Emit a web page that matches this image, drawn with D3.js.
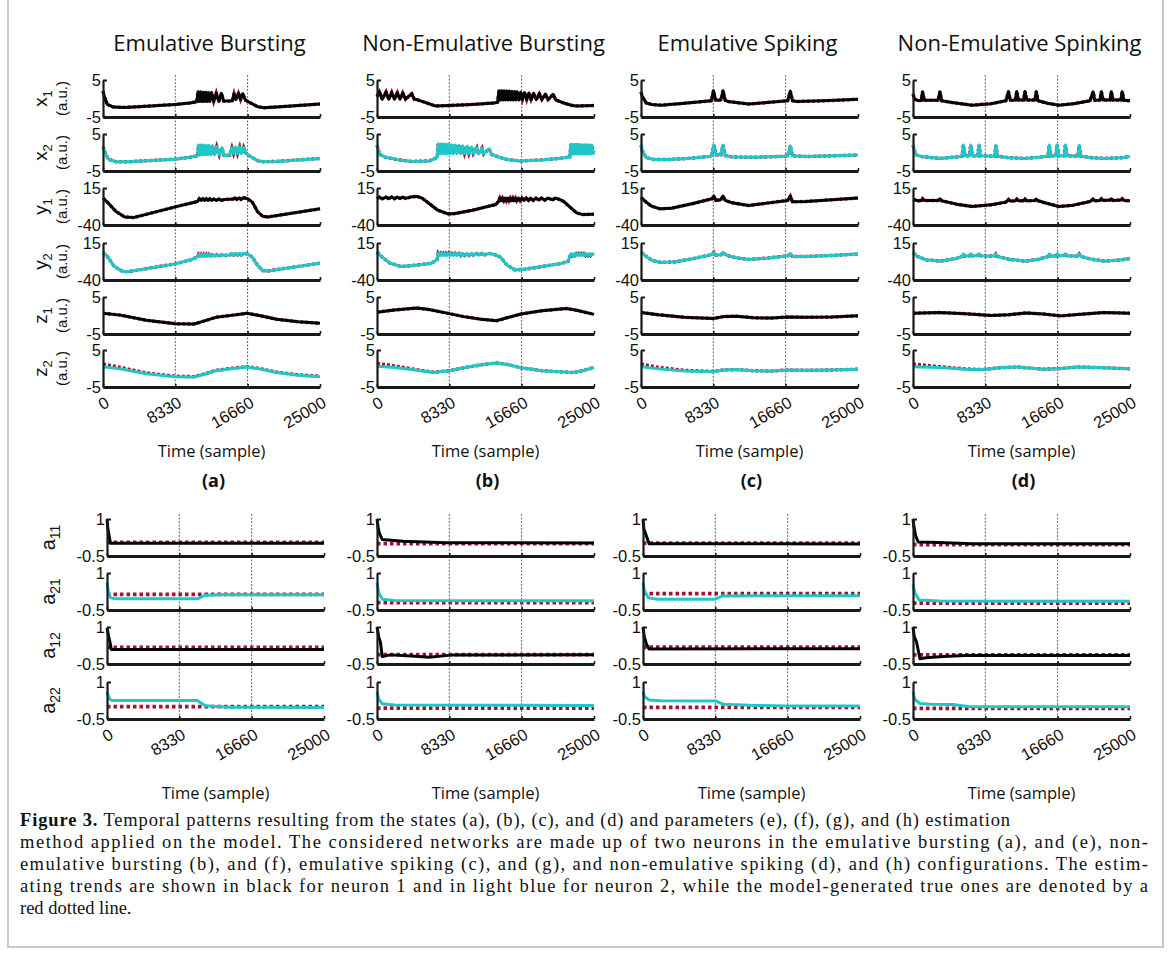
<!DOCTYPE html>
<meta charset="utf-8">
<style>
body { margin: 0; background: #fff; }
</style>
<body>
<script src="https://cdn.jsdelivr.net/npm/d3@7"></script>
<script>

var W = 1170, H = 960;

var titles = ["Emulative Bursting", "Non-Emulative Bursting", "Emulative Spiking", "Non-Emulative Spinking"];
var panelTags = ["(a)", "(b)", "(c)", "(d)"];
var timeTicks = [0, 8.33, 16.66, 25];            // thousands of samples
var timeTickLabels = ["0", "8330", "16660", "25000"];

// ---- states, column (a) emulative bursting ----
var aX1 = [[0,2.0],[0.15,0.5],[0.5,-1.6],[1.2,-2.3],[2.5,-2.4],[5,-2.1],[8.33,-1.6],[10,-1.2],[10.8,-0.9],
  [10.95,1.8],[11.1,-0.8],[11.25,1.8],[11.4,-0.8],[11.55,1.7],[11.7,-0.8],[11.85,1.7],[12.0,-0.8],[12.15,1.6],[12.3,-0.8],
  [12.5,1.6],[12.75,-0.8],[13.05,1.5],[13.35,-0.8],[13.65,1.4],[13.9,-0.7],[14.5,-0.7],[14.9,-0.6],[15.1,1.3],[15.3,-0.3],
  [15.6,1.4],[15.85,-0.3],[16.1,1.3],[16.4,-0.4],[17,-1.2],[17.8,-2.2],[18.5,-2.5],[20,-2.3],[22.5,-1.9],[25,-1.5]];
var aX2 = [[0,1.6],[0.2,0.2],[0.6,-1.8],[1.5,-2.5],[3,-2.5],[6,-2.1],[8.33,-1.8],[10,-1.3],[10.9,-0.9],
  [11.0,2.0],[11.15,-0.6],[11.3,2.0],[11.45,-0.6],[11.6,2.0],[11.75,-0.6],[11.9,1.9],[12.05,-0.6],[12.2,1.9],[12.4,-0.6],
  [12.6,1.8],[12.85,-0.6],[13.1,1.6],[13.4,-0.7],[13.7,1.3],[13.95,-0.8],[14.6,-0.7],[14.85,1.3],[15.05,-0.3],[15.3,1.5],
  [15.5,-0.3],[15.75,1.5],[15.95,-0.3],[16.2,1.4],[16.5,-0.3],[17,-1.1],[17.8,-2.2],[18.5,-2.5],[20,-2.4],[22.5,-2.0],[25,-1.6]];
var aY1 = [[0,0],[0.5,-6],[1.5,-20],[2.5,-28],[3.5,-29],[8.33,-13],[10.9,-5],[11.1,-1],[11.3,-3.5],[11.5,-1],[11.7,-3.5],
  [11.9,-1],[12.1,-3.5],[12.3,-1],[12.5,-3.5],[12.75,-1.5],[13.05,-3.5],[13.35,-1.5],[13.65,-3.5],[14,-2],[15,-1.5],
  [15.2,0.5],[15.4,-2],[15.7,0.5],[15.9,-2],[16.2,0.5],[16.66,-1],[17.2,-6],[17.8,-20],[18.4,-27],[19,-28],[25,-16]];
var aY2 = [[0,1],[0.5,-5],[1.3,-20],[2.3,-27.5],[3,-27.5],[8.33,-16],[10.1,-10],[10.9,-5.5],[11.0,-2],[11.15,-5],[11.3,-2],
  [11.45,-5],[11.6,-2],[11.75,-5],[11.9,-2],[12.05,-5],[12.2,-2],[12.4,-5],[12.6,-2.5],[12.85,-4.5],[13.1,-2.5],[13.4,-4.5],
  [13.7,-2.5],[14,-3.5],[14.6,-3],[14.85,-0.5],[15.05,-3],[15.3,-0.5],[15.5,-3],[15.75,-0.5],[15.95,-3],[16.2,-0.5],
  [16.6,-1],[17.2,-6],[17.8,-18],[18.4,-26],[19,-26.5],[25,-15]];
var aZ1 = [[0,0.6],[2,0.1],[5,-1.3],[8.33,-2.2],[10.5,-2.3],[11.5,-1.6],[13,-0.5],[15,0.1],[16.6,0.6],[18,0],[20,-1],[22.5,-1.7],[25,-2.1]];
var aZ2 = [[0,0.5],[2,-0.1],[5,-1.4],[8.33,-2.2],[10.5,-2.3],[11.5,-1.7],[13,-0.6],[15,0],[16.6,0.4],[18,-0.1],[20,-1.1],[22.5,-1.8],[25,-2.2]];
var aZ2true = [[0,1.2],[2,0.3],[5,-1.2],[8.33,-2.1],[10.5,-2.2],[11.5,-1.6],[13,-0.5],[15,0.1],[16.6,0.5],[18,0],[20,-1],[22.5,-1.7],[25,-2.1]];

// ---- states, column (b) non-emulative bursting ----
var bX1 = [[0,0.5],[0.27,1.8],[0.6,-0.2],[1.04,1.8],[1.35,-0.2],[1.69,1.7],[2.0,-0.2],[2.34,1.6],[2.65,-0.2],[2.96,1.5],
  [3.3,-0.2],[4.0,1.3],[4.3,-0.2],[4.6,-0.3],[5.6,-1.1],[6.7,-2.0],[8.33,-1.9],[11,-1.6],[13.5,-1.2],[13.9,-1.0],
  [14.05,2.1],[14.2,-0.4],[14.35,2.1],[14.5,-0.4],[14.65,2.1],[14.8,-0.4],[14.95,2.0],[15.1,-0.4],[15.25,2.0],[15.4,-0.4],
  [15.55,1.9],[15.7,-0.4],[15.85,1.9],[16.0,-0.4],[16.15,1.8],[16.35,-0.4],[16.55,1.7],[16.75,-0.3],[17.0,1.6],[17.25,-0.3],
  [17.5,1.5],[17.75,-0.3],[18.05,1.4],[18.35,-0.3],[18.7,1.3],[19.0,-0.3],[19.4,1.2],[19.7,-0.3],[20.3,1.1],[20.6,-0.4],
  [21.5,-1.2],[22.5,-1.9],[23,-2.0],[25,-1.9]];
var bX2 = [[0,2.0],[0.3,-0.5],[1,-1.3],[2.5,-2.0],[4,-2.4],[6,-2.3],[6.7,-1.6],[6.95,-1.2],[7.05,2.3],[7.2,-0.3],[7.35,2.3],
  [7.5,-0.3],[7.65,2.3],[7.8,-0.3],[7.95,2.2],[8.1,-0.3],[8.25,2.2],[8.4,-0.3],[8.6,2.1],[8.8,-0.3],[9.0,2.0],[9.2,-0.3],
  [9.45,1.9],[9.65,-0.3],[9.9,1.8],[10.1,-0.3],[10.4,1.7],[10.6,-0.3],[10.9,1.5],[11.1,-0.3],[11.5,1.3],[11.7,-0.4],
  [12.1,1.2],[12.3,-0.4],[12.9,1.0],[13.2,-0.5],[14,-1.2],[15,-1.9],[16.5,-2.3],[19,-2.0],[21,-1.6],[22.2,-1.2],
  [22.35,2.2],[22.5,-0.4],[22.65,2.2],[22.8,-0.4],[22.95,2.2],[23.1,-0.4],[23.25,2.2],[23.4,-0.4],[23.55,2.1],[23.7,-0.4],
  [23.85,2.1],[24.0,-0.4],[24.15,2.1],[24.3,-0.4],[24.45,2.0],[24.6,-0.4],[24.75,2.0],[24.9,-0.3],[25,0.5]];
var bY1 = [[0,-1],[0.27,1.5],[0.6,-1],[1.04,1.5],[1.35,-1],[1.69,1.5],[2.0,-1],[2.34,1.5],[2.65,-0.5],[2.96,1.5],[3.3,-0.5],
  [4.0,2],[4.6,2.5],[5.2,0],[6,-8],[7,-18],[8.2,-23.5],[9,-23],[11,-18],[13.7,-9.5],[14.0,-5],[14.15,0],[14.3,-4],
  [14.45,0],[14.6,-4],[14.75,0],[14.9,-4],[15.05,0],[15.2,-4],[15.35,0],[15.5,-4],[15.65,0],[15.8,-4],[15.95,0],[16.1,-4],
  [16.3,0],[16.5,-4],[16.7,0],[16.95,-3.5],[17.2,0],[17.45,-3.5],[17.7,0],[18.0,-3.5],[18.3,0],[18.65,-3],[18.95,0],
  [19.35,-3],[19.65,0],[20.25,-2.5],[20.55,0],[21,-2],[21.5,-5],[22.3,-14],[23,-22],[23.7,-24.5],[25,-24]];
var bY2 = [[0,1.5],[0.6,-6],[1.5,-15],[2.8,-20],[4.5,-18],[6.3,-15],[6.9,-10],[7.05,-0.5],[7.2,-3.5],[7.35,-0.5],[7.5,-3.5],
  [7.65,-0.5],[7.8,-3.5],[7.95,-0.5],[8.1,-3.5],[8.25,-0.5],[8.4,-3.5],[8.6,-0.5],[8.8,-3.5],[9.0,-0.5],[9.2,-3.5],
  [9.45,-0.5],[9.65,-3.5],[9.9,-0.5],[10.1,-3.5],[10.4,-0.5],[10.6,-3.5],[10.9,-0.5],[11.1,-3],[11.5,-0.5],[11.7,-3],
  [12.1,-0.5],[12.3,-3],[12.9,-0.5],[13.5,-2],[14.2,-6],[15,-18],[15.9,-25],[17,-24],[19,-20],[21,-16],[22.0,-12.5],
  [22.35,-1],[22.5,-3.5],[22.65,-1],[22.8,-3.5],[22.95,-1],[23.1,-3.5],[23.25,-1],[23.4,-3.5],[23.55,-1],[23.7,-3.5],
  [23.85,-1],[24.0,-3.5],[24.15,-1],[24.3,-3.5],[24.45,-1],[24.6,-3.5],[24.75,-1],[25,-2]];
var bZ1 = [[0,0.9],[2,1.5],[4.6,2.0],[6,1.6],[8.33,0.5],[10,-0.3],[12,-1.0],[13.8,-1.4],[15,-0.6],[16.6,0.4],[19,1.3],[21.8,1.9],[23,1.4],[25,0.3]];
var bZ2 = [[0,0.6],[2,0.3],[4,-0.3],[6.5,-1.1],[8.33,-0.6],[10,0.2],[12,1.0],[13.8,1.5],[15,1.1],[16.6,0.2],[19,-0.6],[22.6,-1.1],[23.7,-0.6],[25,0.3]];
var bZ2true = [[0,1.4],[2,0.7],[4,-0.1],[6.5,-1.0],[8.33,-0.6],[10,0.2],[12,1.0],[13.8,1.5],[15,1.1],[16.6,0.2],[19,-0.6],[22.6,-1.1],[23.7,-0.6],[25,0.3]];

// ---- states, column (c) emulative spiking ----
var cX1 = [[0,1.8],[0.15,0.5],[0.6,-1.2],[1.2,-1.6],[2.3,-1.8],[5,-1.3],[8.1,-0.6],[8.35,2.1],[8.6,-0.5],[9.2,-0.4],
  [9.45,2.1],[9.7,-0.5],[10,-0.8],[12.4,-1.5],[14.5,-1.1],[16.9,-0.6],[17.2,2.0],[17.45,-0.6],[18,-0.8],[20,-0.7],[22.5,-0.5],[25,-0.2]];
var cX2 = [[0,2.0],[0.15,0.5],[0.6,-1.4],[1.5,-1.9],[3,-1.9],[5.5,-1.6],[8.1,-1.0],[8.4,2.0],[8.65,-0.6],[9.2,-0.6],
  [9.45,2.0],[9.7,-0.8],[10.5,-1.2],[13,-1.3],[16.9,-1.0],[17.2,1.8],[17.45,-0.9],[19,-1.1],[22,-0.9],[25,-0.7]];
var cY1 = [[0,1],[0.5,-5],[1.2,-12],[2.2,-16],[3.5,-15],[6,-8],[8.2,-1],[8.4,3],[8.6,-3.5],[9.2,-2.5],[9.45,3],[9.7,-3.5],
  [10.5,-7],[12.4,-11],[14.5,-7.5],[16.9,-3.5],[17.2,3],[17.45,-5.5],[19,-5],[22,-2.5],[25,0]];
var cY2 = [[0,1.5],[0.6,-5],[1.3,-11],[2.3,-14],[4,-13],[6.5,-7],[8.2,-2],[8.4,1],[8.6,-3],[9.2,-2.5],[9.45,1],[9.8,-3],
  [11,-7],[12.4,-9.5],[14.5,-7.5],[16.9,-4],[17.2,-0.5],[17.45,-5],[19,-5],[22,-3.5],[25,-1.5]];
var cZ1 = [[0,0.8],[2,0.2],[5,-0.5],[8.33,-0.8],[9.5,-0.3],[11,-0.2],[13,-0.6],[15,-0.7],[17,-0.4],[19,-0.5],[22,-0.4],[25,-0.1]];
var cZ2 = [[0,0.5],[2,-0.1],[5,-0.7],[8.33,-0.9],[9.5,-0.4],[11,-0.3],[13,-0.6],[15,-0.7],[17,-0.4],[19,-0.5],[22,-0.4],[25,-0.2]];
var cZ2true = [[0,1.2],[2,0.3],[5,-0.5],[8.33,-0.8],[9.5,-0.4],[11,-0.3],[13,-0.6],[15,-0.7],[17,-0.4],[19,-0.5],[22,-0.4],[25,-0.2]];

// ---- states, column (d) non-emulative spiking ----
var dX1 = [[0,1.2],[0.2,-0.2],[0.6,-0.6],[0.95,-0.5],[1.1,1.8],[1.3,-0.5],[2.9,-0.5],[3.1,1.8],[3.3,-0.6],[4.5,-1.1],
  [6.8,-1.8],[9,-1.4],[10.7,-0.6],[11.0,1.9],[11.2,-0.5],[11.8,-0.4],[11.95,1.9],[12.15,-0.4],[12.75,-0.4],[12.9,1.9],
  [13.1,-0.4],[14.05,-0.4],[14.2,1.9],[14.4,-0.6],[15.5,-1.3],[16.8,-1.8],[18.5,-1.4],[20.4,-0.6],[20.75,1.8],[20.95,-0.5],
  [21.55,-0.4],[21.7,1.8],[21.9,-0.4],[22.7,-0.4],[22.85,1.8],[23.05,-0.4],[23.95,-0.4],[24.1,1.8],[24.3,-0.5],[25,-0.6]];
var dX2 = [[0,2.0],[0.3,-0.6],[1,-1.1],[3.1,-1.6],[5,-1.2],[5.65,-1.0],[5.8,2.0],[6.0,-0.9],[6.5,-0.9],[6.65,2.0],[6.85,-0.9],
  [7.45,-0.9],[7.6,2.0],[7.8,-0.9],[9.4,-1.0],[9.55,1.9],[9.75,-1.0],[11,-1.4],[12.9,-1.6],[14.5,-1.3],[15.55,-1.0],
  [15.7,2.0],[15.9,-0.9],[16.45,-0.9],[16.6,2.0],[16.8,-0.9],[17.4,-0.9],[17.55,2.0],[17.75,-0.9],[19.0,-1.0],[19.15,1.9],
  [19.35,-1.0],[20.5,-1.4],[22.1,-1.6],[24,-1.4],[25,-1.1]];
var dY1 = [[0,-2],[0.6,-4],[1.0,-3.5],[1.1,-1],[1.3,-3.5],[2.9,-3.5],[3.1,-1],[3.3,-4],[5,-9],[6.8,-12.5],[9,-10],[10.7,-6],
  [11,-2],[11.2,-4.5],[11.8,-4],[11.95,-1.5],[12.15,-4],[12.75,-4],[12.9,-1.5],[13.1,-4],[14.05,-3.5],[14.2,-1.5],[14.4,-4],
  [15.5,-8],[16.8,-12.5],[18.5,-10.5],[20.4,-5],[20.75,-1.5],[20.95,-4],[21.55,-3.5],[21.7,-1],[21.9,-3.5],[22.7,-3],
  [22.85,-1],[23.05,-3.5],[23.95,-3],[24.1,-1],[24.3,-3.5],[25,-4]];
var dY2 = [[0,1],[0.5,-5],[1.5,-10],[3.1,-12],[5,-8],[5.65,-5],[5.8,-1.5],[6.0,-4.5],[6.5,-4],[6.65,-1],[6.85,-4],
  [7.45,-3.5],[7.6,-1],[7.8,-4],[9.4,-4.5],[9.55,-1.5],[9.75,-5],[11,-9],[12.9,-12],[14.5,-9],[15.55,-5],[15.7,-1.5],
  [15.9,-4.5],[16.45,-4],[16.6,-1],[16.8,-4],[17.4,-3.5],[17.55,-1],[17.75,-4],[19.0,-4.5],[19.15,-1.5],[19.35,-5],
  [20.5,-9],[22.1,-12],[24,-10],[25,-8]];
var dZ1 = [[0,0.6],[3,0.8],[6,0.5],[9,0],[11,0.2],[13,0.7],[15,0.4],[17,-0.1],[19,0.3],[22,0.8],[25,0.6]];
var dZ2 = [[0,0.5],[3,0.3],[6,-0.2],[8,-0.3],[10,0.2],[12,0.4],[15,-0.2],[17,0],[19,0.4],[22,0.2],[25,-0.1]];
var dZ2true = [[0,1.2],[3,0.5],[6,-0.1],[8,-0.3],[10,0.2],[12,0.4],[15,-0.2],[17,0],[19,0.4],[22,0.2],[25,-0.1]];

// ---- parameters (e)-(h): estimate and true value ----
var pa11 = [[0,1.0],[0.1,0.6],[0.25,0.3],[0.4,0.02],[25,0.02]],                      pa11true = [[0,0.05],[25,0.05]];
var pa21 = [[0,0.6],[0.15,0.25],[0.4,0.0],[0.8,-0.04],[10.5,-0.04],[11.3,0.1],[13,0.12],[25,0.12]], pa21true = [[0,0.13],[25,0.13]];
var pa12 = [[0,0.96],[0.2,0.6],[0.35,0.37],[0.5,0.09],[25,0.09]],                    pa12true = [[0,0.17],[25,0.17]];
var pa22 = [[0,0.6],[0.3,0.3],[0.6,0.25],[10.4,0.25],[11.3,0.04],[14,-0.02],[25,-0.03]], pa22true = [[0,0.0],[25,0.0]];

var pb11 = [[0,1.0],[0.15,0.6],[0.3,0.4],[0.6,0.17],[3,0.1],[8,0.04],[25,0.03]],       pb11true = [[0,0.0],[25,0.0]];
var pb21 = [[0,0.6],[0.2,0.2],[0.6,-0.06],[2,-0.11],[25,-0.13]],                       pb21true = [[0,-0.2],[25,-0.2]];
var pb12 = [[0,1.0],[0.2,0.6],[0.4,0.37],[0.6,-0.2],[1.5,-0.13],[4,-0.18],[6,-0.23],[8.5,-0.14],[25,-0.13]], pb12true = [[0,-0.12],[25,-0.12]];
var pb22 = [[0,0.6],[0.2,0.3],[0.6,0.12],[2,0.07],[25,0.05]],                          pb22true = [[0,-0.06],[25,-0.06]];

var pc11 = [[0,1.0],[0.1,0.6],[0.3,0.4],[0.7,0.0],[25,-0.01]],                         pc11true = [[0,0.02],[25,0.02]];
var pc21 = [[0,0.6],[0.15,0.3],[0.6,0.0],[1.5,-0.06],[8.33,-0.06],[9.2,0.07],[25,0.08]], pc21true = [[0,0.16],[25,0.16]];
var pc12 = [[0,1.0],[0.15,0.6],[0.4,0.3],[0.7,0.11],[25,0.12]],                        pc12true = [[0,0.18],[25,0.18]];
var pc22 = [[0,0.6],[0.2,0.4],[0.7,0.27],[2,0.24],[8.33,0.23],[9.2,0.1],[13,0.05],[16.66,0.03],[25,0.03]], pc22true = [[0,-0.03],[25,-0.03]];

var pd11 = [[0,1.0],[0.1,0.7],[0.3,0.33],[0.6,0.07],[3,0.05],[6.8,0.0],[25,0.0]],       pd11true = [[0,-0.04],[25,-0.04]];
var pd21 = [[0,0.53],[0.2,0.2],[0.7,-0.09],[3,-0.14],[25,-0.15]],                      pd21true = [[0,-0.22],[25,-0.22]];
var pd12 = [[0,1.0],[0.15,0.6],[0.4,0.4],[0.8,-0.29],[1.5,-0.25],[3.5,-0.2],[6,-0.16],[25,-0.16]], pd12true = [[0,-0.13],[25,-0.13]];
var pd22 = [[0,0.6],[0.2,0.3],[0.8,0.13],[2,0.1],[4.6,0.09],[6.5,0.0],[25,0.0]],        pd22true = [[0,-0.07],[25,-0.07]];

var caption = [
  "Temporal patterns resulting from the states (a), (b), (c), and (d) and parameters (e), (f), (g), and (h) estimation",
  "method applied on the model. The considered networks are made up of two neurons in the emulative bursting (a), and (e), non-",
  "emulative bursting (b), and (f), emulative spiking (c), and (g), and non-emulative spiking (d), and (h) configurations. The estim-",
  "ating trends are shown in black for neuron 1 and in light blue for neuron 2, while the model-generated true ones are denoted by a",
  "red dotted line."
];

var black = "#050505", cyan = "#1fc8c8", red = "#a5122f";

var stateRows = [
  {name: "x", sub: "1", dom: [-5, 5], color: black, est: [aX1, bX1, cX1, dX1], tru: [aX1, bX1, cX1, dX1]},
  {name: "x", sub: "2", dom: [-5, 5], color: cyan, est: [aX2, bX2, cX2, dX2], tru: [aX2, bX2, cX2, dX2]},
  {name: "y", sub: "1", dom: [-40, 15], color: black, est: [aY1, bY1, cY1, dY1], tru: [aY1, bY1, cY1, dY1]},
  {name: "y", sub: "2", dom: [-40, 15], color: cyan, est: [aY2, bY2, cY2, dY2], tru: [aY2, bY2, cY2, dY2]},
  {name: "z", sub: "1", dom: [-5, 5], color: black, est: [aZ1, bZ1, cZ1, dZ1], tru: [aZ1, bZ1, cZ1, dZ1]},
  {name: "z", sub: "2", dom: [-5, 5], color: cyan, est: [aZ2, bZ2, cZ2, dZ2], tru: [aZ2true, bZ2true, cZ2true, dZ2true]}
];
var paramRows = [
  {name: "a", sub: "11", dom: [-0.5, 1], color: black, est: [pa11, pb11, pc11, pd11], tru: [pa11true, pb11true, pc11true, pd11true]},
  {name: "a", sub: "21", dom: [-0.5, 1], color: cyan, est: [pa21, pb21, pc21, pd21], tru: [pa21true, pb21true, pc21true, pd21true]},
  {name: "a", sub: "12", dom: [-0.5, 1], color: black, est: [pa12, pb12, pc12, pd12], tru: [pa12true, pb12true, pc12true, pd12true]},
  {name: "a", sub: "22", dom: [-0.5, 1], color: cyan, est: [pa22, pb22, pc22, pd22], tru: [pa22true, pb22true, pc22true, pd22true]}
];

// layout
var PW = 217, RH = 37;
var topCols = [103, 377, 641, 913], topRows = [80, 134, 188, 243, 297, 350];
var botCols = [107, 377, 643, 913], botRows = [519, 573, 627, 682];

var svg = d3.select("body").append("svg")
    .attr("width", W)
    .attr("height", H);

svg.append("rect")
    .attr("x", 8).attr("y", -3).attr("width", 1155).attr("height", 950)
    .attr("fill", "none").attr("stroke", "#c9c9c9").attr("stroke-width", 2);

var sans = "'Liberation Sans', Arial, sans-serif",
    titleFont = "'Open Sans', sans-serif";

function section(cols, rows, defs, param, xLabelY) {
  cols.forEach(function(x0, c) {
    var x = d3.scaleLinear().domain([0, 25]).range([x0, x0 + PW]);

    // dashed guides at 8330 and 16660
    svg.append("g").selectAll("line")
        .data(timeTicks.slice(1, 3))
      .enter().append("line")
        .attr("x1", function(d) { return x(d); })
        .attr("x2", function(d) { return x(d); })
        .attr("y1", rows[0] - 5)
        .attr("y2", rows[rows.length - 1] + RH)
        .attr("stroke", "#555").attr("stroke-width", 0.9)
        .attr("stroke-dasharray", "2,1.5");

    defs.forEach(function(r, i) {
      var top = rows[i];
      var y = d3.scaleLinear().domain(r.dom).range([top + RH, top]);
      var line = d3.line()
          .x(function(d) { return x(d[0]); })
          .y(function(d) { return y(d[1]); });

      svg.append("path").datum(r.tru[c])
          .attr("d", line).attr("fill", "none")
          .attr("stroke", red)
          .attr("stroke-width", param ? 3.8 : 3.4)
          .attr("stroke-dasharray", param ? "3.5,3" : "3,2");

      svg.append("path").datum(r.est[c])
          .attr("d", line).attr("fill", "none")
          .attr("stroke", r.color)
          .attr("stroke-width", 3)
          .attr("stroke-linejoin", "round");

      var last = i === defs.length - 1;

      var ya = svg.append("g")
          .attr("transform", "translate(" + x0 + ",0)")
          .call(d3.axisLeft(y).tickValues(r.dom).tickFormat(String)
              .tickSize(-4).tickSizeOuter(0).tickPadding(2));
      ya.select(".domain").attr("stroke", "#1a1a1a").attr("stroke-width", 2.2);
      ya.selectAll(".tick line").attr("stroke", "#1a1a1a").attr("stroke-width", 2);
      ya.selectAll("text").attr("font-family", sans).attr("font-size", 16.5).attr("fill", "#111");

      var xa = svg.append("g")
          .attr("transform", "translate(0," + (top + RH) + ")")
          .call(d3.axisBottom(x).tickValues(timeTicks)
              .tickFormat(function(d) { return last ? timeTickLabels[timeTicks.indexOf(d)] : ""; })
              .tickSize(-3).tickSizeOuter(0));
      xa.select(".domain").attr("stroke", "#1a1a1a").attr("stroke-width", 2.8);
      xa.selectAll(".tick line").attr("stroke", "#1a1a1a").attr("stroke-width", 1.6);
      xa.selectAll("text")
          .attr("font-family", sans).attr("font-size", 16.5).attr("fill", "#111")
          .attr("text-anchor", "end").attr("y", 0).attr("dy", null)
          .attr("transform", "translate(7,19) rotate(-30)");

      // row label, only on the first column
      if (c === 0) {
        var lab = svg.append("text")
            .attr("transform", "translate(" + (param ? 55 : 47) + "," + (top + RH / 2) + ") rotate(-90)")
            .attr("text-anchor", "middle")
            .attr("font-family", sans).attr("font-size", param ? 20 : 19).attr("fill", "#111");
        lab.append("tspan").text(r.name);
        lab.append("tspan").attr("dy", 5).attr("font-size", param ? 14 : 13).text(r.sub);
        if (!param) {
          svg.append("text")
              .attr("transform", "translate(67," + (top + RH / 2) + ") rotate(-90)")
              .attr("text-anchor", "middle")
              .attr("font-family", sans).attr("font-size", 15).attr("fill", "#111")
              .text("(a.u.)");
        }
      }
    });

    svg.append("text")
        .attr("x", x0 + PW / 2).attr("y", xLabelY)
        .attr("text-anchor", "middle")
        .attr("font-family", titleFont).attr("font-size", 16.5).attr("fill", "#111")
        .text("Time (sample)");
  });
}

// column titles and panel tags
topCols.forEach(function(x0, c) {
  svg.append("text")
      .attr("x", x0 + PW / 2 - 2).attr("y", 51)
      .attr("text-anchor", "middle")
      .attr("font-family", titleFont).attr("font-size", 22).attr("fill", "#111")
      .text(titles[c]);
  svg.append("text")
      .attr("x", x0 + PW / 2 + 2).attr("y", 487)
      .attr("text-anchor", "middle")
      .attr("font-family", titleFont).attr("font-weight", "bold").attr("font-size", 18).attr("fill", "#111")
      .text(panelTags[c]);
});

section(topCols, topRows, stateRows, false, 457);
section(botCols, botRows, paramRows, true, 799);

// caption, justified with textLength like the printed block
var cap = svg.append("g")
    .attr("font-family", "'Liberation Serif', 'Times New Roman', serif")
    .attr("font-size", 18.5)
    .attr("fill", "#111");
var capWidths = [990, 1128, 1128, 1128, 0];
caption.forEach(function(t, i) {
  var tx = cap.append("text").attr("x", 20).attr("y", 826 + i * 22);
  if (i === 0) {
    tx.append("tspan").attr("font-weight", "bold").text("Figure 3.");
    tx.append("tspan").text(" " + t);
  } else {
    tx.text(t);
  }
  if (capWidths[i]) tx.attr("textLength", capWidths[i]).attr("lengthAdjust", "spacing");
});

</script>
